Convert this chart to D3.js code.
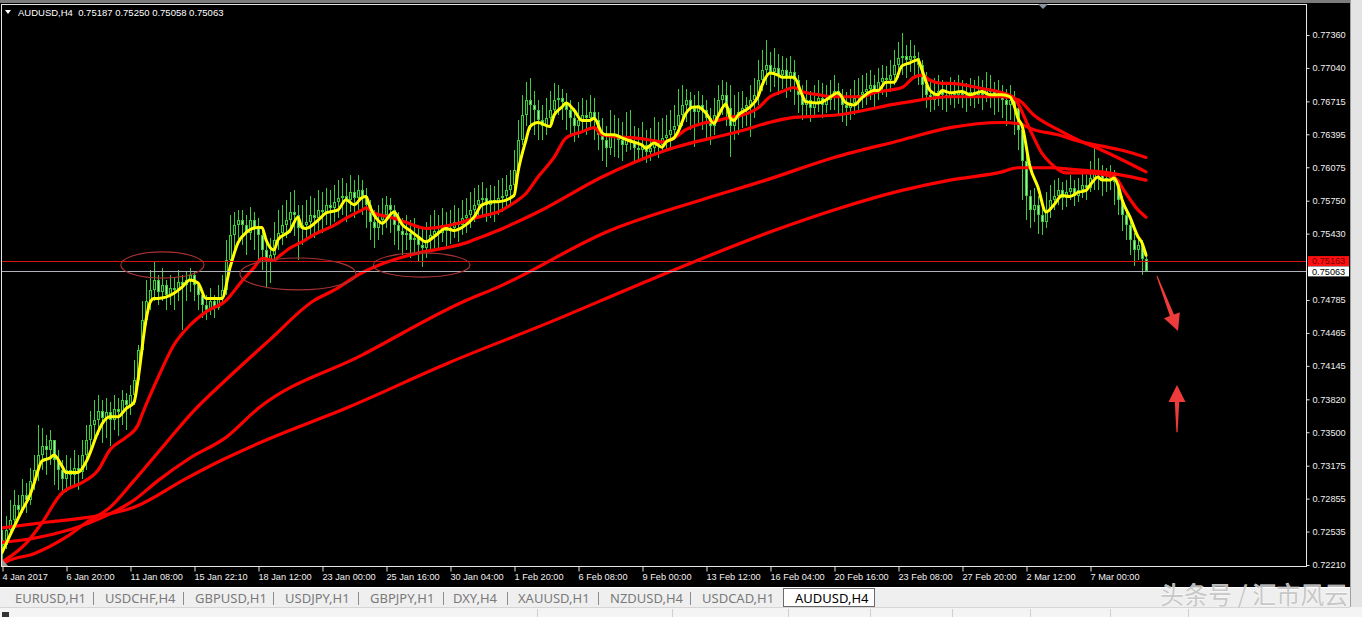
<!DOCTYPE html>
<html><head><meta charset="utf-8">
<script src="https://cdn.jsdelivr.net/npm/d3@7"></script>
<style>
html,body{margin:0;padding:0;background:#000;overflow:hidden;}
svg{display:block;}
</style></head>
<body>
<svg id="chart" width="1362" height="617"></svg>
<script>
// ---------------- DATA ----------------
const symbol = "AUDUSD,H4";
const timeLabels = ["4 Jan 2017","6 Jan 20:00","11 Jan 08:00","15 Jan 22:10","18 Jan 12:00","23 Jan 00:00","25 Jan 16:00","30 Jan 04:00","1 Feb 20:00","6 Feb 08:00","9 Feb 00:00","13 Feb 12:00","16 Feb 04:00","20 Feb 16:00","23 Feb 08:00","27 Feb 20:00","2 Mar 12:00","7 Mar 00:00"];
const labelEveryBars = 16;
const priceTicks = [0.77360,0.77040,0.76715,0.76395,0.76075,0.75750,0.75430,0.74785,0.74465,0.74145,0.73820,0.73500,0.73175,0.72855,0.72535,0.72210];
const levelPrice = 0.75163;
const firstOpen = 0.7245;
const closes = [
0.7240,0.7255,0.7265,0.7279,0.7274,0.7289,0.7284,0.7303,0.7313,0.7328,
0.7337,0.7333,0.7342,0.7323,0.7313,0.7305,0.7313,0.7308,0.7315,0.7311,
0.7328,0.7342,0.7357,0.7362,0.7371,0.7364,0.7370,0.7362,0.7373,0.7370,
0.7381,0.7376,0.7386,0.7401,0.7430,0.7459,0.7478,0.7488,0.7498,0.7486,
0.7493,0.7483,0.7490,0.7488,0.7496,0.7493,0.7498,0.7503,0.7493,0.7483,
0.7474,0.7469,0.7478,0.7471,0.7480,0.7488,0.7517,0.7542,0.7551,0.7556,
0.7551,0.7544,0.7556,0.7548,0.7542,0.7527,0.7515,0.7522,0.7537,0.7544,
0.7551,0.7556,0.7564,0.7561,0.7548,0.7551,0.7554,0.7561,0.7558,0.7566,
0.7564,0.7571,0.7568,0.7574,0.7578,0.7580,0.7576,0.7583,0.7578,0.7585,
0.7580,0.7571,0.7554,0.7548,0.7556,0.7561,0.7571,0.7566,0.7551,0.7546,
0.7542,0.7544,0.7537,0.7539,0.7532,0.7529,0.7537,0.7542,0.7546,0.7544,
0.7551,0.7546,0.7548,0.7554,0.7551,0.7558,0.7561,0.7566,0.7571,0.7576,
0.7578,0.7571,0.7576,0.7574,0.7578,0.7580,0.7585,0.7590,0.7605,0.7634,
0.7658,0.7673,0.7668,0.7663,0.7653,0.7648,0.7655,0.7663,0.7673,0.7675,
0.7671,0.7663,0.7655,0.7648,0.7653,0.7658,0.7655,0.7661,0.7653,0.7639,
0.7634,0.7626,0.7639,0.7636,0.7634,0.7629,0.7636,0.7632,0.7626,0.7624,
0.7629,0.7622,0.7626,0.7634,0.7629,0.7636,0.7639,0.7644,0.7648,0.7658,
0.7668,0.7673,0.7665,0.7661,0.7668,0.7663,0.7655,0.7648,0.7658,0.7673,
0.7678,0.7665,0.7648,0.7655,0.7661,0.7665,0.7668,0.7673,0.7678,0.7692,
0.7702,0.7707,0.7700,0.7704,0.7697,0.7702,0.7694,0.7700,0.7692,0.7678,
0.7668,0.7673,0.7665,0.7671,0.7675,0.7668,0.7673,0.7678,0.7682,0.7675,
0.7668,0.7665,0.7670,0.7675,0.7678,0.7681,0.7684,0.7687,0.7682,0.7690,
0.7694,0.7692,0.7697,0.7707,0.7714,0.7716,0.7712,0.7716,0.7714,0.7707,
0.7687,0.7678,0.7673,0.7678,0.7682,0.7678,0.7675,0.7681,0.7678,0.7682,
0.7678,0.7675,0.7681,0.7678,0.7682,0.7678,0.7684,0.7681,0.7675,0.7678,
0.7673,0.7668,0.7673,0.7665,0.7644,0.7614,0.7580,0.7566,0.7571,0.7561,
0.7554,0.7566,0.7576,0.7580,0.7585,0.7578,0.7583,0.7587,0.7580,0.7585,
0.7590,0.7587,0.7597,0.7603,0.7600,0.7595,0.7597,0.7600,0.7593,0.7576,
0.7561,0.7551,0.7537,0.7527,0.7532,0.75187,0.75063];
const highs = [
0.7255,0.7269,0.7284,0.7294,0.7289,0.7305,0.7301,0.7315,0.7328,0.7357,
0.7354,0.7347,0.7352,0.7342,0.7333,0.7323,0.7328,0.7325,0.7333,0.7328,
0.7342,0.7357,0.7371,0.7381,0.7386,0.7381,0.7383,0.7379,0.7386,0.7383,
0.7391,0.7388,0.7396,0.7420,0.7435,0.7478,0.7498,0.7508,0.7515,0.7503,
0.7510,0.7498,0.7503,0.7500,0.7508,0.7503,0.7506,0.7510,0.7506,0.7495,
0.7488,0.7483,0.7490,0.7483,0.7493,0.7503,0.7537,0.7561,0.7564,0.7566,
0.7566,0.7561,0.7569,0.7564,0.7558,0.7546,0.7537,0.7539,0.7554,0.7566,
0.7571,0.7576,0.7583,0.7585,0.7571,0.7571,0.7576,0.7580,0.7578,0.7585,
0.7583,0.7587,0.7585,0.7590,0.7595,0.7597,0.7592,0.7600,0.7595,0.7600,
0.7595,0.7587,0.7576,0.7566,0.7571,0.7578,0.7580,0.7578,0.7571,0.7564,
0.7558,0.7561,0.7556,0.7558,0.7551,0.7548,0.7554,0.7561,0.7566,0.7561,
0.7568,0.7564,0.7566,0.7571,0.7568,0.7576,0.7578,0.7583,0.7587,0.7590,
0.7593,0.7587,0.7590,0.7589,0.7595,0.7597,0.7600,0.7605,0.7624,0.7653,
0.7678,0.7690,0.7694,0.7682,0.7673,0.7668,0.7675,0.7682,0.7689,0.7687,
0.7684,0.7680,0.7673,0.7665,0.7671,0.7675,0.7673,0.7678,0.7675,0.7661,
0.7655,0.7648,0.7663,0.7658,0.7655,0.7651,0.7661,0.7663,0.7648,0.7646,
0.7651,0.7644,0.7646,0.7656,0.7651,0.7655,0.7658,0.7663,0.7668,0.7684,
0.7687,0.7684,0.7681,0.7678,0.7682,0.7678,0.7673,0.7665,0.7675,0.7687,
0.7692,0.7690,0.7687,0.7678,0.7681,0.7682,0.7676,0.7687,0.7694,0.7712,
0.7721,0.7731,0.7719,0.7723,0.7718,0.7716,0.7714,0.7716,0.7712,0.7697,
0.7687,0.7692,0.7682,0.7687,0.7692,0.7689,0.7687,0.7692,0.7697,0.7689,
0.7684,0.7681,0.7684,0.7692,0.7694,0.7697,0.7699,0.7702,0.7697,0.7704,
0.7707,0.7706,0.7712,0.7721,0.7729,0.7738,0.7726,0.7731,0.7726,0.7719,
0.7712,0.7700,0.7692,0.7694,0.7697,0.7692,0.7690,0.7695,0.7692,0.7697,
0.7692,0.7689,0.7694,0.7692,0.7696,0.7692,0.7700,0.7697,0.7690,0.7692,
0.7687,0.7684,0.7687,0.7682,0.7673,0.7648,0.7619,0.7585,0.7587,0.7580,
0.7576,0.7583,0.7590,0.7595,0.7597,0.7593,0.7595,0.7600,0.7595,0.7597,
0.7603,0.7600,0.7614,0.7627,0.7616,0.7610,0.7607,0.7610,0.7605,0.7595,
0.7580,0.7566,0.7556,0.7544,0.7542,0.7537,0.75250];
const lows = [
0.7226,0.7237,0.7250,0.7260,0.7265,0.7272,0.7272,0.7279,0.7294,0.7303,
0.7313,0.7308,0.7318,0.7299,0.7294,0.7289,0.7292,0.7296,0.7299,0.7294,
0.7305,0.7313,0.7328,0.7342,0.7347,0.7340,0.7344,0.7337,0.7352,0.7346,
0.7357,0.7352,0.7367,0.7376,0.7396,0.7425,0.7454,0.7469,0.7478,0.7474,
0.7478,0.7469,0.7474,0.7469,0.7478,0.7449,0.7478,0.7486,0.7478,0.7469,
0.7461,0.7459,0.7464,0.7461,0.7469,0.7474,0.7483,0.7510,0.7527,0.7532,
0.7532,0.7522,0.7537,0.7527,0.7517,0.7508,0.7491,0.7495,0.7515,0.7527,
0.7532,0.7539,0.7544,0.7541,0.7517,0.7532,0.7537,0.7542,0.7539,0.7546,
0.7544,0.7551,0.7548,0.7554,0.7558,0.7561,0.7554,0.7564,0.7558,0.7566,
0.7561,0.7548,0.7537,0.7529,0.7537,0.7542,0.7548,0.7544,0.7532,0.7527,
0.7522,0.7527,0.7519,0.7522,0.7515,0.7511,0.7519,0.7527,0.7529,0.7529,
0.7535,0.7531,0.7533,0.7539,0.7535,0.7542,0.7544,0.7548,0.7554,0.7558,
0.7561,0.7554,0.7558,0.7554,0.7561,0.7564,0.7568,0.7571,0.7585,0.7600,
0.7629,0.7648,0.7644,0.7639,0.7634,0.7634,0.7639,0.7646,0.7655,0.7658,
0.7653,0.7644,0.7639,0.7632,0.7636,0.7642,0.7639,0.7644,0.7634,0.7624,
0.7614,0.7608,0.7619,0.7617,0.7616,0.7614,0.7622,0.7624,0.7614,0.7613,
0.7616,0.7612,0.7614,0.7621,0.7616,0.7622,0.7624,0.7626,0.7634,0.7639,
0.7648,0.7651,0.7644,0.7627,0.7648,0.7644,0.7636,0.7629,0.7639,0.7655,
0.7658,0.7648,0.7617,0.7634,0.7639,0.7646,0.7648,0.7637,0.7655,0.7668,
0.7682,0.7687,0.7681,0.7685,0.7678,0.7684,0.7675,0.7681,0.7668,0.7660,
0.7653,0.7656,0.7651,0.7658,0.7661,0.7655,0.7660,0.7663,0.7663,0.7658,
0.7651,0.7648,0.7653,0.7658,0.7663,0.7665,0.7668,0.7673,0.7665,0.7673,
0.7678,0.7676,0.7681,0.7687,0.7694,0.7697,0.7694,0.7700,0.7694,0.7687,
0.7673,0.7665,0.7661,0.7663,0.7667,0.7663,0.7661,0.7668,0.7665,0.7669,
0.7665,0.7661,0.7667,0.7665,0.7669,0.7663,0.7671,0.7665,0.7658,0.7661,
0.7655,0.7648,0.7653,0.7639,0.7624,0.7576,0.7556,0.7548,0.7554,0.7543,
0.7542,0.7548,0.7558,0.7566,0.7571,0.7566,0.7569,0.7576,0.7570,0.7574,
0.7578,0.7576,0.7583,0.7585,0.7585,0.7580,0.7583,0.7585,0.7571,0.7561,
0.7546,0.7537,0.7522,0.7512,0.7517,0.7503,0.75058];

// Moving averages: [bar index, price]
const fastMA = [[0,0.7233],[3,0.7258],[5,0.7274],[7,0.7289],[8,0.7300],[10,0.7322],[12,0.7325],[13,0.7328],[15,0.7317],[16,0.7311],[19,0.7311],[21,0.7321],[24,0.7350],[25,0.7358],[27,0.7365],[29,0.7365],[31,0.7373],[33,0.7379],[34,0.7401],[36,0.7459],[37,0.7476],[38,0.7480],[39,0.7480],[43,0.7485],[45,0.7491],[47,0.7498],[49,0.7495],[51,0.7480],[55,0.7480],[57,0.7510],[59,0.7534],[61,0.7544],[64,0.7549],[65,0.7549],[66,0.7537],[68,0.7527],[69,0.7537],[72,0.7546],[74,0.7559],[75,0.7549],[76,0.7548],[79,0.7556],[81,0.7563],[84,0.7566],[86,0.7576],[88,0.7571],[90,0.7578],[91,0.7579],[92,0.7569],[94,0.7556],[95,0.7553],[98,0.7564],[100,0.7552],[102,0.7546],[104,0.7540],[106,0.7535],[108,0.7540],[111,0.7548],[113,0.7546],[115,0.7549],[118,0.7559],[120,0.7571],[123,0.7574],[124,0.7574],[128,0.7580],[129,0.7603],[131,0.7634],[132,0.7647],[134,0.7651],[137,0.7647],[138,0.7658],[140,0.7666],[141,0.7670],[143,0.7663],[145,0.7653],[147,0.7653],[148,0.7655],[150,0.7641],[151,0.7639],[153,0.7639],[155,0.7636],[157,0.7633],[160,0.7629],[161,0.7626],[163,0.7631],[165,0.7627],[166,0.7632],[168,0.7636],[169,0.7642],[171,0.7660],[173,0.7666],[174,0.7666],[176,0.7660],[178,0.7650],[179,0.7657],[181,0.7669],[182,0.7656],[183,0.7653],[184,0.7658],[187,0.7666],[189,0.7676],[190,0.7687],[192,0.7699],[194,0.7697],[195,0.7695],[198,0.7695],[200,0.7678],[201,0.7671],[204,0.7670],[206,0.7673],[209,0.7680],[211,0.7670],[213,0.7668],[215,0.7675],[218,0.7682],[219,0.7682],[221,0.7690],[223,0.7690],[225,0.7706],[227,0.7709],[229,0.7712],[230,0.7702],[232,0.7682],[234,0.7678],[235,0.7682],[237,0.7680],[240,0.7681],[242,0.7678],[245,0.7681],[247,0.7678],[250,0.7678],[252,0.7676],[253,0.7668],[254,0.7655],[255,0.7648],[257,0.7608],[259,0.7588],[261,0.7564],[263,0.7571],[265,0.7580],[267,0.7579],[269,0.7583],[271,0.7585],[272,0.7590],[274,0.7598],[275,0.7595],[277,0.7595],[278,0.7597],[279,0.7590],[280,0.7576],[282,0.7559],[284,0.7540],[285,0.7534],[286,0.7522]];
const maA = [[0,0.7224],[6,0.7242],[10,0.7262],[15,0.7291],[16,0.7294],[20,0.7301],[24,0.7313],[27,0.7333],[31,0.7345],[34,0.7357],[35,0.7367],[39,0.7403],[43,0.7435],[47,0.7454],[51,0.7467],[56,0.7478],[60,0.7497],[63,0.7510],[65,0.7519],[68,0.7517],[69,0.7520],[72,0.7529],[75,0.7535],[78,0.7542],[83,0.7551],[86,0.7558],[90,0.7566],[91,0.7568],[93,0.7563],[97,0.7559],[101,0.7554],[106,0.7548],[109,0.7549],[114,0.7553],[118,0.7558],[121,0.7561],[124,0.7564],[128,0.7573],[131,0.7582],[134,0.7598],[138,0.7617],[141,0.7636],[145,0.7642],[148,0.7646],[150,0.7639],[154,0.7637],[158,0.7636],[162,0.7634],[165,0.7632],[168,0.7636],[171,0.7644],[175,0.7650],[179,0.7653],[182,0.7656],[185,0.7658],[189,0.7665],[192,0.7676],[195,0.7681],[198,0.7685],[200,0.7681],[204,0.7678],[208,0.7676],[212,0.7676],[215,0.7676],[218,0.7680],[221,0.7682],[225,0.7685],[228,0.7695],[230,0.7697],[232,0.7692],[235,0.7689],[237,0.7689],[245,0.7684],[250,0.7680],[253,0.7675],[257,0.7644],[260,0.7621],[262,0.7612],[266,0.7602],[271,0.7602],[278,0.7598],[281,0.7582],[284,0.7566],[286,0.7559]];
const maB = [[0,0.7221],[1,0.7224],[8,0.7232],[16,0.7248],[21,0.7262],[27,0.7277],[33,0.7303],[40,0.7335],[48,0.7371],[56,0.7401],[67,0.7440],[78,0.7478],[83,0.7488],[90,0.7505],[94,0.7512],[100,0.7520],[105,0.7525],[112,0.7530],[116,0.7534],[120,0.7540],[124,0.7546],[128,0.7553],[135,0.7566],[150,0.7598],[166,0.7624],[183,0.7641],[198,0.7656],[208,0.7658],[225,0.7670],[237,0.7676],[250,0.7676],[254,0.7673],[258,0.7658],[264,0.7644],[269,0.7634],[275,0.7624],[286,0.7603]];
const maC = [[0,0.7243],[8,0.7247],[25,0.7267],[33,0.7284],[39,0.7303],[47,0.7325],[56,0.7345],[64,0.7373],[90,0.7425],[116,0.7478],[124,0.7491],[152,0.7546],[175,0.7576],[191,0.7595],[208,0.7617],[225,0.7634],[237,0.7646],[250,0.7651],[254,0.7650],[258,0.7644],[264,0.7639],[269,0.7633],[275,0.7628],[280,0.7624],[286,0.7617]];
const maD = [[0,0.7257],[12,0.7263],[21,0.7267],[33,0.7277],[46,0.7305],[55,0.7323],[64,0.7339],[87,0.7375],[112,0.7418],[137,0.7457],[162,0.7498],[193,0.7546],[208,0.7566],[225,0.7585],[237,0.7595],[250,0.7603],[254,0.7607],[262,0.7607],[269,0.7605],[275,0.7603],[286,0.7595]];

// annotations (bar index, price)
const ellipses = [
  {bar:40.1, price:0.75125, rBars:10.4, rPrice:0.00127},
  {bar:74.0, price:0.75038, rBars:14.5, rPrice:0.00155},
  {bar:104.9, price:0.75125, rBars:12.1, rPrice:0.00117}
];
const arrows = [
  {tail:[288.75,0.75017], tip:[294.0,0.74483]},
  {tail:[293.75,0.73501], tip:[293.75,0.73958]}
];
const tabs = ["EURUSD,H1","USDCHF,H4","GBPUSD,H1","USDJPY,H1","GBPJPY,H1","DXY,H4","XAUUSD,H1","NZDUSD,H4","USDCAD,H1","AUDUSD,H4"];
const activeTab = "AUDUSD,H4";
const watermark = "头条号 / 汇市风云";

// ---------------- LAYOUT ----------------
const svg = d3.select("#chart");
const nBars = closes.length;
const xs = d3.scaleLinear().domain([0, nBars-1]).range([2, 1146]);
const ys = d3.scaleLinear().domain([0.7221, 0.7736]).range([565, 35]);
const fmt = d3.format(".5f");
const axisFont = "'Liberation Sans', Arial, sans-serif";
const green = "#3ccc3c";

svg.append("rect").attr("width",1362).attr("height",617).attr("fill","#000");
svg.append("rect").attr("x",0).attr("y",0).attr("width",1362).attr("height",3).attr("fill","#7c7c7c");

const defs = svg.append("defs");
defs.append("clipPath").attr("id","plotclip").append("rect")
  .attr("x",2).attr("y",4.5).attr("width",1304).attr("height",561.5);

const plot = svg.append("g").attr("clip-path","url(#plotclip)");

// candles
const candles = closes.map((c,i)=>({i, o: i ? closes[i-1] : firstOpen, h: highs[i], l: lows[i], c}));
const gC = plot.append("g");
gC.selectAll("line.wick").data(candles).join("line").attr("class","wick")
  .attr("x1",d=>Math.round(xs(d.i))+0.5).attr("x2",d=>Math.round(xs(d.i))+0.5)
  .attr("y1",d=>Math.round(ys(d.h))).attr("y2",d=>Math.round(ys(d.l)))
  .attr("stroke",green).attr("stroke-width",1);
const body = d => {
  const t = Math.round(ys(Math.max(d.o,d.c))), b = Math.round(ys(Math.min(d.o,d.c)));
  return {t, h: Math.max(1, b - t)};
};
gC.selectAll("rect.body").data(candles).join("rect").attr("class","body")
  .attr("x",d=>Math.round(xs(d.i))-1).attr("width",3)
  .attr("y",d=>body(d).t).attr("height",d=>body(d).h)
  .attr("fill",green);
gC.selectAll("rect.inner").data(candles.filter(d=>body(d).h>2)).join("rect").attr("class","inner")
  .attr("x",d=>Math.round(xs(d.i))).attr("width",1)
  .attr("y",d=>body(d).t+1).attr("height",d=>body(d).h-2)
  .attr("fill",d=>d.c>d.o ? "#0a1a0a" : "#a6f0a6");

// MA lines
const lineGen = d3.line().x(d=>xs(d[0])).y(d=>ys(d[1])).curve(d3.curveMonotoneX);
[maD, maC, maB, maA].forEach(s=>{
  plot.append("path").datum(s).attr("d",lineGen).attr("fill","none")
    .attr("stroke","#ff0000").attr("stroke-width",3.2).attr("stroke-linejoin","round").attr("stroke-linecap","round");
});
plot.append("path").datum(fastMA).attr("d",lineGen).attr("fill","none")
  .attr("stroke","#ffff00").attr("stroke-width",3).attr("stroke-linejoin","round").attr("stroke-linecap","round");

// level + bid lines
const lastClose = closes[nBars-1];
plot.append("line").attr("x1",2).attr("x2",1306).attr("y1",Math.round(ys(levelPrice))+0.5).attr("y2",Math.round(ys(levelPrice))+0.5)
  .attr("stroke","#d41414").attr("stroke-width",1);
plot.append("line").attr("x1",2).attr("x2",1306).attr("y1",Math.round(ys(lastClose))+0.5).attr("y2",Math.round(ys(lastClose))+0.5)
  .attr("stroke","#b0b0b8").attr("stroke-width",1);

// ellipses
plot.selectAll("ellipse.ann").data(ellipses).join("ellipse").attr("class","ann")
  .attr("cx",d=>xs(d.bar)).attr("cy",d=>ys(d.price))
  .attr("rx",d=>xs(d.bar+d.rBars)-xs(d.bar)).attr("ry",d=>ys(d.price-d.rPrice)-ys(d.price))
  .attr("fill","none").attr("stroke","#a83232").attr("stroke-width",1.2);

// arrows
function arrowPoly(a){
  const x0=xs(a.tail[0]), y0=ys(a.tail[1]), x1=xs(a.tip[0]), y1=ys(a.tip[1]);
  const L=Math.hypot(x1-x0,y1-y0), ux=(x1-x0)/L, uy=(y1-y0)/L, px=-uy, py=ux;
  const hl=17, hw=8.5, sw=2.2, tw=0.6;
  const bx=x1-ux*hl, by=y1-uy*hl;
  const pts=[[x0+px*tw,y0+py*tw],[bx+px*sw,by+py*sw],[bx+px*hw,by+py*hw],[x1,y1],[bx-px*hw,by-py*hw],[bx-px*sw,by-py*sw],[x0-px*tw,y0-py*tw]];
  return pts.map(p=>p.join(",")).join(" ");
}
svg.selectAll("polygon.arrow").data(arrows).join("polygon").attr("class","arrow")
  .attr("points",arrowPoly).attr("fill","#ee3b3b");

// frame
svg.append("rect").attr("x",1.5).attr("y",4.5).attr("width",1305).attr("height",562)
  .attr("fill","none").attr("stroke","#e6e6e6").attr("stroke-width",1);
svg.append("polygon").attr("points","1038,4 1048,4 1043,9").attr("fill","#8a96a8");
svg.append("polygon").attr("points","2,559 8,566 2,566").attr("fill","#9a9a9a");

// y axis
const yAxis = svg.append("g").attr("transform","translate(1306.5,0)")
  .call(d3.axisRight(ys).tickValues(priceTicks).tickSize(3).tickPadding(3).tickFormat(fmt));
yAxis.select(".domain").remove();
yAxis.selectAll("line").attr("stroke","#e6e6e6");
yAxis.selectAll("text").attr("fill","#f0f0f0").style("font-family",axisFont).style("font-size","9.2px");

// price boxes
const boxes = [{p:levelPrice, bg:"#ff1010", fg:"#700000"},{p:lastClose, bg:"#ffffff", fg:"#000"}];
boxes.forEach(b=>{
  const y=ys(b.p);
  svg.append("rect").attr("x",1308).attr("y",y-5).attr("width",41).attr("height",10).attr("fill",b.bg);
  svg.append("text").attr("x",1312).attr("y",y+3.3).text(fmt(b.p)).attr("fill",b.fg)
    .style("font-family",axisFont).style("font-size","9.2px");
});

// x axis
const tickIdx = timeLabels.map((_,k)=>k*labelEveryBars);
const xAxis = svg.append("g").attr("transform","translate(0,566.5)")
  .call(d3.axisBottom(xs).tickValues(tickIdx).tickSize(5).tickPadding(2).tickFormat((d,i)=>timeLabels[i]));
xAxis.select(".domain").remove();
xAxis.selectAll("line").attr("stroke","#e6e6e6").attr("transform","translate(0.5,0)");
xAxis.selectAll("text").attr("text-anchor","start").attr("fill","#f0f0f0")
  .style("font-family",axisFont).style("font-size","9.2px");

// header
svg.append("polygon").attr("points","5,10 11,10 8,14").attr("fill","#fff");
const lastO = candles[nBars-1].o;
svg.append("text").attr("x",18).attr("y",16).attr("fill","#fff")
  .style("font-family",axisFont).style("font-size","9.5px").attr("xml:space","preserve")
  .text(`${symbol}  ${fmt(lastO)} ${fmt(highs[nBars-1])} ${fmt(lows[nBars-1])} ${fmt(lastClose)}`);

// right window border
svg.append("rect").attr("x",1350).attr("y",0).attr("width",12).attr("height",617).attr("fill","#e4e4e4");
svg.append("line").attr("x1",1350.5).attr("x2",1350.5).attr("y1",0).attr("y2",617).attr("stroke","#a0a0a0");

// tab bar
svg.append("rect").attr("x",0).attr("y",587).attr("width",1350).attr("height",20).attr("fill","#efefef");
svg.append("line").attr("x1",0).attr("x2",1350).attr("y1",587.5).attr("y2",587.5).attr("stroke","#ffffff");
svg.append("rect").attr("x",0).attr("y",607).attr("width",1362).attr("height",10).attr("fill","#f4f4f4");
svg.append("line").attr("x1",0).attr("x2",1350).attr("y1",607.5).attr("y2",607.5).attr("stroke","#d6d6d6");
const tabX = [15,105,195,285,370,453,518,610,702,795];
const sepX = [93,183,273,358,443,507,598,690];
svg.append("rect").attr("x",783.5).attr("y",588.5).attr("width",91).attr("height",18).attr("fill","#fff").attr("stroke","#6a6a6a");
sepX.forEach(x=>svg.append("line").attr("x1",x+0.5).attr("x2",x+0.5).attr("y1",592).attr("y2",605).attr("stroke","#8c8c8c"));
tabs.forEach((t,i)=>{
  svg.append("text").attr("x",tabX[i]).attr("y",603).text(t)
    .attr("fill", t===activeTab ? "#000" : "#7a7a7a")
    .style("font-family","'Noto Sans', 'Open Sans', sans-serif").style("font-size","13px");
});
[537,672,788,870,952,1030,1110,1188].forEach(x=>svg.append("line").attr("x1",x+0.5).attr("x2",x+0.5).attr("y1",609).attr("y2",617).attr("stroke","#cfcfcf"));
svg.append("rect").attr("x",2).attr("y",612).attr("width",7).attr("height",5).attr("fill","#333");

// watermark
svg.append("text").attr("x",1160).attr("y",604).text(watermark)
  .attr("fill","#c4c4c4").attr("stroke","#ffffff").attr("stroke-width",0.8).attr("paint-order","stroke")
  .attr("opacity",0.92)
  .style("font-family","'Noto Sans CJK SC', sans-serif").style("font-size","24px");
</script>
</body></html>
